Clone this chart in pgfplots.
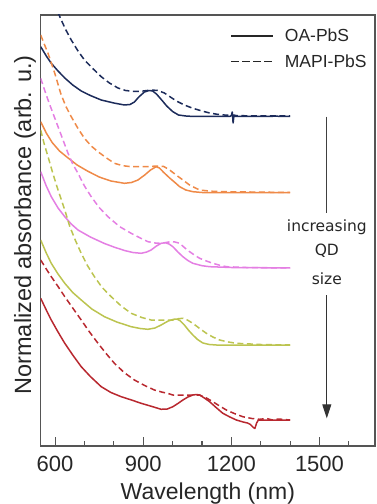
\documentclass[border=0pt]{standalone}
\usepackage{pgfplots}
\pgfplotsset{compat=1.18}
\usepackage{fontspec}
\setmainfont{Liberation Sans}
\newfontfamily\annfont{DejaVu Sans}
\usetikzlibrary{arrows.meta}
\definecolor{cnavy}{HTML}{1C2B5A}
\definecolor{corange}{HTML}{EF8A48}
\definecolor{cpink}{HTML}{E47FE3}
\definecolor{cyel}{HTML}{BCC450}
\definecolor{cred}{HTML}{B8282F}
\definecolor{cframe}{HTML}{555555}
\begin{document}
\begin{tikzpicture}
\begin{axis}[
  at={(0,0)}, anchor=south west,
  scale only axis, width=334.3pt, height=431pt,
  xmin=551, xmax=1689, ymin=0, ymax=431,
  axis line style={draw=cframe, line width=1.1pt},
  xtick={600,900,1200,1500}, xticklabels={600,900,1200,1500},
  minor xtick={700,800,1000,1100,1300,1400,1600},
  ytick=\empty,
  xtick pos=lower,
  tick align=inside,
  major tick length=9pt, minor tick length=5pt,
  every tick/.style={cframe, line width=1.1pt},
  xticklabel style={font=\fontsize{22}{26}\selectfont, anchor=base, yshift=-25.7pt, inner sep=0pt, text=black!85},
  xlabel={Wavelength (nm)},
  every axis x label/.style={at={(axis description cs:0.5,0)}, anchor=base, yshift=-53.5pt, font=\fontsize{23}{27}\selectfont, inner sep=0pt, text=black!85},
  ylabel={Normalized absorbance (arb. u.)},
  every axis y label/.style={at={(axis description cs:-0.029,0.513)}, rotate=90, anchor=base, font=\fontsize{23.5}{27}\selectfont, inner sep=0pt, text=black!85},
  legend style={at={(axis description cs:0.566,0.972)}, anchor=north west, draw=none, fill=none, font=\fontsize{17.5}{21}\selectfont, row sep=7pt, inner sep=0pt, text=black!85, /tikz/every odd column/.append style={column sep=9pt}},
  legend cell align=left,
  legend image code/.code={\draw[#1, line width=1.8pt] (0pt,0pt) -- (42pt,0pt);},
  every axis plot/.append style={line width=1.5pt, line join=round},
]
\addlegendimage{black!85, solid}
\addlegendentry{OA-PbS}
\addlegendimage{black!85, dash pattern=on 7.5pt off 3.5pt}
\addlegendentry{MAPI-PbS}

% navy
\addplot[cnavy, forget plot] coordinates {(551,399.3) (570,390) (587,382.7) (610,375) (633,368) (660,361) (689,355) (720,350.5) (757,346) (800,343) (836,341) (855,341.5) (870,344) (885,349) (904,354) (920,355.5) (932,355) (945,352) (960,347) (980,340) (1000,334.5) (1020,331) (1050,329.8) (1100,329.5) (1195,329.5) (1200,330.5) (1203,334) (1206,323) (1209,331) (1212,329.5) (1300,329.5) (1350,329.8) (1400,329.5)};
\addplot[cnavy, dash pattern=on 6pt off 3.5pt, forget plot] coordinates {(551,478) (575,460) (595,444) (616,429.3) (635,417) (655,406) (678,395) (700,386) (730,377) (757,369.3) (785,363) (814,358) (840,355.5) (870,354.5) (900,355) (927,356) (950,355.5) (972,353) (995,348.5) (1013,345) (1040,341) (1069,337.7) (1100,335) (1126,333) (1150,331.8) (1183,330.8) (1250,330.2) (1400,330)};
% orange
\addplot[corange, forget plot] coordinates {(551,324.3) (570,313) (590,303.5) (615,295) (640,289) (675,281) (710,275) (750,269) (790,265) (836,262.7) (860,263.5) (882,266) (905,271) (925,276) (944,279.3) (955,278) (970,273.5) (990,268) (1010,263) (1024,259.3) (1045,256) (1069,254.3) (1100,253.5) (1400,253.3)};
\addplot[corange, dash pattern=on 6pt off 3.5pt, forget plot] coordinates {(551,411) (563,402) (576,392.7) (599,372.7) (619,352.7) (636,340) (655,329.3) (678,317.5) (700,307.7) (723,300) (746,294.3) (775,288) (802,282.7) (830,280.3) (859,279.3) (916,279.3) (945,280) (970,279.5) (990,276) (1012,271) (1035,266) (1060,260.5) (1092,256) (1130,254.8) (1183,254.3) (1400,253.5)};
% pink
\addplot[cpink, forget plot] coordinates {(551,274.3) (570,260) (587,249.3) (610,238) (633,229.3) (655,222) (678,216) (720,209) (768,202.5) (800,199) (836,195.5) (865,193.5) (893,192.7) (912,194) (927,196) (945,200) (961,202.7) (975,203.3) (988,202) (1001,199.3) (1018,194) (1035,189.3) (1052,185.5) (1069,182.7) (1100,180.3) (1126,179.3) (1200,178.5) (1400,178)};
\addplot[cpink, dash pattern=on 6pt off 3.5pt, forget plot] coordinates {(551,367.7) (563,357) (576,346) (593,332.5) (610,319.3) (627,306) (644,292.7) (660,282) (678,272.7) (700,260) (723,249.3) (750,238.5) (780,229.3) (820,219.3) (859,212.7) (890,208) (916,204.3) (945,202.8) (961,202.7) (978,203.5) (992,204.3) (1008,204) (1024,202.7) (1040,198.5) (1058,194.3) (1075,190.8) (1092,187.7) (1115,185) (1137,182.7) (1160,180.8) (1183,179.3) (1250,178.5) (1400,178)};
% yellow-green
\addplot[cyel, forget plot] coordinates {(551,206) (570,193) (587,182.7) (610,172) (633,162.7) (660,153.5) (689,146) (725,137) (768,129.3) (810,124) (859,119.3) (890,117.5) (916,116.7) (940,118) (961,121) (985,125) (1005,126.8) (1015,126.8) (1025,125.5) (1040,121) (1055,115.5) (1069,111) (1085,106.5) (1103,103) (1125,101.5) (1149,101) (1400,101)};
\addplot[cyel, dash pattern=on 6pt off 3.5pt, forget plot] coordinates {(551,316) (563,302) (576,289.3) (593,272) (610,256) (633,236) (650,219.5) (670,205) (689,192.7) (710,180.5) (734,169.3) (760,158.5) (791,149.3) (825,140) (859,132.7) (895,128.5) (927,126) (972,126) (1001,126) (1020,127.3) (1035,127.7) (1050,126) (1069,122.7) (1092,117.5) (1115,112.7) (1137,109) (1160,106) (1190,104) (1217,102.7) (1300,101.5) (1400,101)};
% red
\addplot[cred, forget plot] coordinates {(551,147.7) (570,136) (587,126) (610,114) (633,102.7) (660,91) (689,79.3) (720,69.5) (757,59.3) (790,53.5) (825,49.3) (860,46) (893,42.7) (930,39.5) (961,36.7) (982,37) (1001,39.3) (1018,42.5) (1035,46) (1052,49) (1069,51) (1082,51.5) (1092,51) (1108,48) (1126,44.3) (1148,38.5) (1171,32.7) (1195,29) (1217,26) (1240,24) (1255,23) (1265,21.5) (1275,18.5) (1280,17.5) (1286,23) (1292,26) (1330,26) (1400,26)};
\addplot[cred, dash pattern=on 6pt off 3.5pt, forget plot] coordinates {(551,186) (570,177) (587,169.3) (610,159.5) (633,149.3) (660,138) (689,126) (716,114.5) (746,102.7) (775,92) (802,82.7) (835,73.5) (870,66) (905,60.5) (938,56) (965,53.8) (983,52.7) (1001,51) (1047,51) (1092,51) (1115,48) (1137,44.3) (1160,40) (1183,36) (1210,32.5) (1239,29.3) (1270,27.5) (1296,26.7) (1320,27.5) (1340,26) (1360,27) (1400,26)};

% annotation
\draw[black!75, line width=1pt] (axis cs:1525,329.3) -- (axis cs:1525,232.7);
\node[font=\annfont\fontsize{15.5}{18}\selectfont, text=black!85] at (axis cs:1525,219) {increasing};
\node[font=\annfont\fontsize{15.5}{18}\selectfont, text=black!85] at (axis cs:1525,195) {QD};
\node[font=\annfont\fontsize{15.5}{18}\selectfont, text=black!85] at (axis cs:1525,167) {size};
\draw[black!80, line width=1pt, -{Triangle[length=14pt,width=9pt]}] (axis cs:1525,151) -- (axis cs:1525,27.7);
\end{axis}
\pgfresetboundingbox
\useasboundingbox (-40.7pt,-58pt) rectangle (336.3pt,446pt);
\end{tikzpicture}
\end{document}
